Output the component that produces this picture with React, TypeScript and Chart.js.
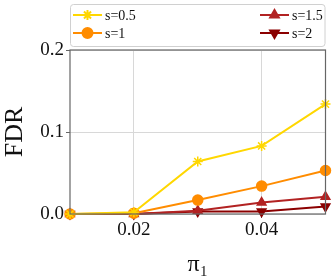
import React, { useEffect, useRef } from "react";
import { Chart, registerables } from "chart.js";
import { drawPoint } from "chart.js/helpers";

Chart.register(...registerables);

const xValues = [0.01, 0.02, 0.03, 0.04, 0.05];
const sLabels = ["s=0.5", "s=1", "s=1.5", "s=2"];
const s05 = [0.0, 0.002, 0.064, 0.083, 0.134];
const s1 = [0.0, 0.001, 0.017, 0.034, 0.053];
const s15 = [0.0, 0.0, 0.004, 0.014, 0.021];
const s2 = [0.0, 0.0, 0.003, 0.003, 0.009];
const colors = ["#FFD700", "#FF8C00", "#B22222", "#8B0000"];
const styles = ["star", "circle", "triangle", "triangle"];
const rotations = [0, 0, 0, 180];
const xTicks = [0.02, 0.04];
const yTicks = [0.0, 0.1, 0.2];

const FONT = "'Liberation Serif', 'DejaVu Serif', serif";

const frameAndLegend = {
  id: "frameAndLegend",
  afterDatasetsDraw(chart: any) {
    const ctx = chart.ctx;
    const a = chart.chartArea;
    ctx.save();
    ctx.strokeStyle = "#666";
    ctx.lineWidth = 1.2;
    ctx.strokeRect(a.left, a.top, a.right - a.left, a.bottom - a.top);
    ctx.restore();
  },
  afterDraw(chart: any) {
    const ctx = chart.ctx;
    const a = chart.chartArea;
    ctx.save();
    const bx = a.left;
    const by = 4;
    const bw = a.right - a.left;
    const bh = 42;
    ctx.beginPath();
    if (ctx.roundRect) ctx.roundRect(bx + 0.5, by + 0.5, bw - 1, bh, 3);
    else ctx.rect(bx + 0.5, by + 0.5, bw - 1, bh);
    ctx.fillStyle = "rgba(255,255,255,0.9)";
    ctx.fill();
    ctx.strokeStyle = "#d0d0d0";
    ctx.lineWidth = 1;
    ctx.stroke();
    const pos = [
      { x: bx + 3, y: 15 },
      { x: bx + 3, y: 33 },
      { x: bx + 190, y: 15 },
      { x: bx + 190, y: 33 },
    ];
    ctx.font = "14px " + FONT;
    ctx.textBaseline = "middle";
    for (let i = 0; i < sLabels.length; i++) {
      const p = pos[i];
      ctx.strokeStyle = colors[i];
      ctx.fillStyle = colors[i];
      ctx.lineWidth = 2;
      ctx.beginPath();
      ctx.moveTo(p.x, p.y);
      ctx.lineTo(p.x + 29, p.y);
      ctx.stroke();
      drawPoint(ctx, { pointStyle: styles[i], radius: 5, rotation: rotations[i], borderWidth: 1.5 } as any, p.x + 14.5, p.y);
      ctx.fillStyle = "#111";
      ctx.fillText(sLabels[i], p.x + 32, p.y + 1);
    }
    ctx.restore();
  },
};

export default function App() {
  const ref = useRef<HTMLCanvasElement>(null);
  useEffect(() => {
    document.body.style.margin = "0";
    const series = [s05, s1, s15, s2];
    const chart = new Chart(ref.current!, {
      type: "line",
      data: {
        datasets: series.map((vals, i) => ({
          label: sLabels[i],
          data: xValues.map((x, j) => ({ x, y: vals[j] })),
          borderColor: colors[i],
          backgroundColor: colors[i],
          pointBackgroundColor: colors[i],
          pointBorderColor: colors[i],
          borderWidth: 2,
          pointStyle: styles[i] as any,
          pointRotation: rotations[i],
          pointRadius: 5,
          pointBorderWidth: 1.5,
          tension: 0,
          clip: false as any,
        })),
      },
      options: {
        animation: false,
        responsive: false,
        maintainAspectRatio: false,
        layout: { padding: { top: 50, right: 6, left: 0, bottom: 0 } },
        plugins: { legend: { display: false }, tooltip: { enabled: false } },
        scales: {
          x: {
            type: "linear",
            min: 0.01,
            max: 0.05,
            afterBuildTicks: (s: any) => {
              s.ticks = xTicks.map((v) => ({ value: v }));
            },
            afterFit: (s: any) => {
              s.height = 65;
            },
            ticks: {
              color: "#111",
              font: { family: FONT, size: 19 },
              padding: 1,
              callback: (v: any) => Number(v).toFixed(2),
            },
            grid: { color: "#d8d8d8", lineWidth: 1, tickLength: 4, tickColor: "#666" },
            border: { display: false },
            title: {
              display: true,
              text: "π₁",
              color: "#111",
              font: { family: FONT, size: 24 },
              padding: { top: 2, bottom: 0 },
            },
          },
          y: {
            min: 0,
            max: 0.2,
            afterBuildTicks: (s: any) => {
              s.ticks = yTicks.map((v) => ({ value: v }));
            },
            afterFit: (s: any) => {
              s.width = 70;
            },
            ticks: {
              color: "#111",
              font: { family: FONT, size: 19 },
              padding: 2,
              callback: (v: any) => Number(v).toFixed(1),
            },
            grid: { color: "#d8d8d8", lineWidth: 1, tickLength: 4, tickColor: "#666" },
            border: { display: false },
            title: {
              display: true,
              text: "FDR",
              color: "#111",
              font: { family: FONT, size: 26 },
              padding: { top: 0, bottom: 2 },
            },
          },
        },
      },
      plugins: [frameAndLegend],
    });
    return () => chart.destroy();
  }, []);
  return (
    <div style={{ width: 332, height: 279 }}>
      <canvas ref={ref} width={332} height={279} style={{ display: "block" }} />
    </div>
  );
}
